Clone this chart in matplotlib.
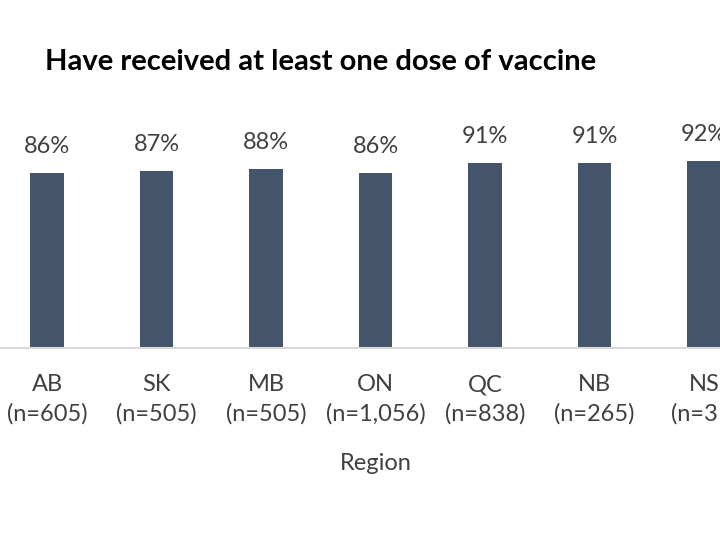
import matplotlib
matplotlib.use('Agg')
import matplotlib.pyplot as plt

# data
regions = ['AB', 'SK', 'MB', 'ON', 'QC', 'NB', 'NS']
sample_sizes = ['605', '505', '505', '1,056', '838', '265', '31']
pct_vaccinated = [86, 87, 88, 86, 91, 91, 92]

plt.rcParams['font.family'] = ['Lato', 'DejaVu Sans']

BAR_COLOR = '#44546A'
TEXT_COLOR = '#404040'

fig = plt.figure(figsize=(7.2, 5.4), dpi=100)
# axes placed so the picture is cropped the way the reference is
ax = fig.add_axes([0.0, 192 / 540, 1.0, 203 / 540])

x = list(range(len(regions)))
bars = ax.bar(x, pct_vaccinated, width=0.31, color=BAR_COLOR, zorder=2)

for rect, val in zip(bars, pct_vaccinated):
    ax.annotate(f'{val}%', (rect.get_x() + rect.get_width() / 2, rect.get_height()),
                xytext=(0, 12), textcoords='offset points',
                ha='center', va='bottom', fontsize=17, color=TEXT_COLOR)

ax.set_xlim(-47 / 109.5, (720 - 47) / 109.5)
ax.set_ylim(0, 100)

labels = [f'{r}\n(n={n})' for r, n in zip(regions, sample_sizes)]
ax.set_xticks(x)
ax.set_xticklabels(labels, fontsize=17, color=TEXT_COLOR, linespacing=1.45)
ax.tick_params(axis='x', length=0, pad=19)
ax.set_yticks([])

for side in ['top', 'right', 'left']:
    ax.spines[side].set_visible(False)
ax.spines['bottom'].set_color('#D9D9D9')
ax.spines['bottom'].set_linewidth(1.5)

fig.text(376 / 720, 1 - 463 / 540, 'Region', ha='center', va='center',
         fontsize=17, color=TEXT_COLOR)
fig.text(45 / 720, 1 - 62 / 540, 'Have received at least one dose of vaccine',
         ha='left', va='center', fontsize=21, fontweight='bold', color='black')

fig.savefig('out.png', dpi=100)
